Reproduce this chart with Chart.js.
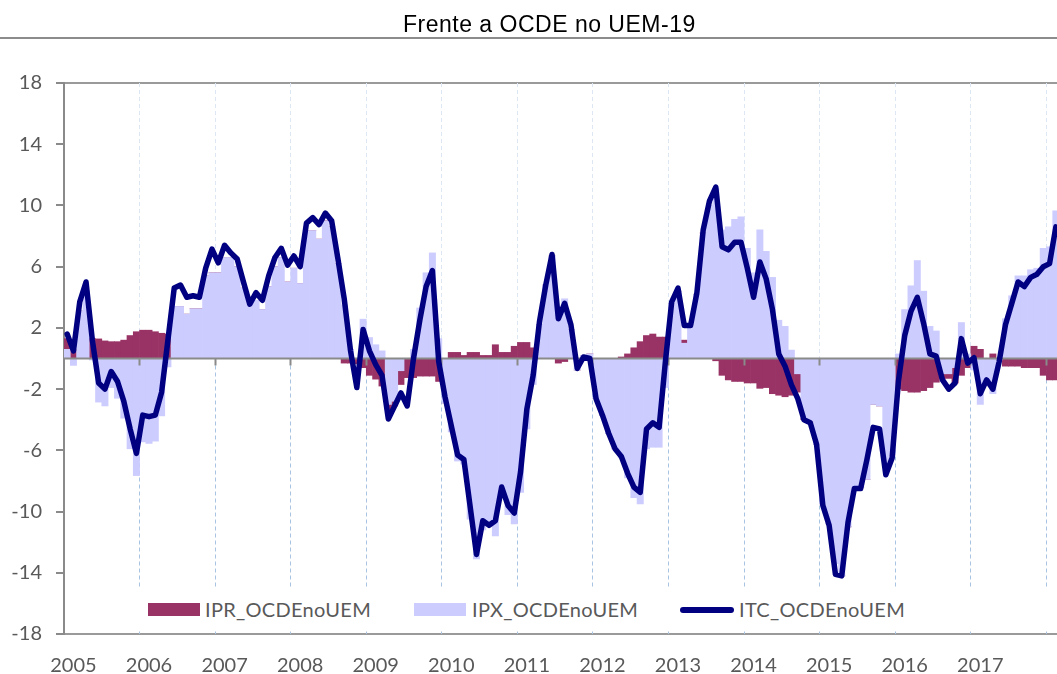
<!DOCTYPE html>
<html>
<head>
<meta charset="utf-8">
<script src="https://cdn.jsdelivr.net/npm/chart.js@4.4.1/dist/chart.umd.min.js"></script>
<style>
  html, body { margin: 0; padding: 0; background: #fff; overflow: hidden; }
  #wrap { position: relative; width: 1057px; height: 674px; overflow: hidden; }
  #chart { position: absolute; left: 0; top: 0; }
  .title { position: absolute; left: 403px; top: 13px; font: 23px/23px "Liberation Sans", Arial, sans-serif;
           letter-spacing: 0.5px; color: #000; white-space: nowrap; }
  .title-rule { position: absolute; left: 0; top: 37px; width: 1057px; height: 2px; background: #8c8c8c; }
  .legend { position: absolute; left: 100px; top: 587px; width: 957px; height: 44px; background: #fff; }
  .legend .sw { position: absolute; top: 16px; width: 52px; height: 13px; }
  .legend .ln { position: absolute; top: 20px; width: 54px; height: 6px; border-radius: 3px; background: #000080; }
  .legend .tx { position: absolute; top: 10px; font: 20px/24px Lato, sans-serif; color: #595959; letter-spacing: 0.3px; white-space: nowrap; }
</style>
</head>
<body>
<div id="wrap">
  <canvas id="chart" width="1059" height="674"></canvas>
  <div class="title">Frente a OCDE no UEM-19</div>
  <div class="title-rule"></div>
  <div class="legend">
    <div class="sw" style="left:48px;background:#993366"></div>
    <div class="tx" style="left:105px">IPR_OCDEnoUEM</div>
    <div class="sw" style="left:314px;background:#ccccff"></div>
    <div class="tx" style="left:372px">IPX_OCDEnoUEM</div>
    <div class="ln" style="left:580px"></div>
    <div class="tx" style="left:639px">ITC_OCDEnoUEM</div>
  </div>
</div>
<script>
// monthly data, Jan 2005 .. Feb 2018
const years = [2005, 2006, 2007, 2008, 2009, 2010, 2011, 2012, 2013, 2014, 2015, 2016, 2017, 2018];
const months = ['01', '02', '03', '04', '05', '06', '07', '08', '09', '10', '11', '12'];
const yearTicks = ['2005', '2006', '2007', '2008', '2009', '2010', '2011', '2012', '2013', '2014', '2015', '2016', '2017'];
const yTicks = [-18, -14, -10, -6, -2, 2, 6, 10, 14, 18];

const itc = [
    1.6, 0.5, 3.7, 5.0, 1.2, -1.6, -2.0, -0.85, -1.5, -2.8, -4.6, -6.2,        // 2005
    -3.7, -3.8, -3.7, -2.2, 1.2, 4.6, 4.8, 4.0, 4.1, 4.0, 5.9, 7.15,          // 2006
    6.25, 7.4, 6.9, 6.5, 5.0, 3.55, 4.3, 3.8, 5.4, 6.6, 7.2, 6.1,             // 2007
    6.7, 6.0, 8.85, 9.2, 8.75, 9.5, 9.0, 6.5, 3.9, 0.5, -1.9, 1.9,            // 2008
    0.5, -0.4, -1.1, -3.95, -3.1, -2.25, -3.1, 0.0, 2.5, 4.7, 5.75, -0.2,     // 2009
    -2.5, -4.4, -6.3, -6.6, -9.7, -12.8, -10.6, -10.9, -10.6, -8.4, -9.6, -10.1, // 2010
    -7.4, -3.3, -1.1, 2.4, 4.8, 6.8, 2.6, 3.6, 2.2, -0.65, 0.1, 0.0,          // 2011
    -2.65, -3.7, -4.9, -5.9, -6.4, -7.5, -8.4, -8.75, -4.6, -4.2, -4.5, -0.2, // 2012
    3.7, 4.6, 2.15, 2.15, 4.3, 8.4, 10.3, 11.2, 7.3, 7.1, 7.6, 7.6,           // 2013
    5.9, 4.0, 6.3, 5.2, 3.2, 0.3, -0.5, -1.7, -2.6, -4.0, -4.2, -5.6,         // 2014
    -9.6, -10.9, -14.1, -14.2, -10.7, -8.5, -8.5, -6.6, -4.5, -4.6, -7.6, -6.5, // 2015
    -1.5, 1.5, 3.1, 4.0, 2.3, 0.3, 0.15, -1.4, -2.0, -1.6, 1.3, -0.3,         // 2016
    0.05, -2.3, -1.4, -2.0, -0.2, 2.2, 3.6, 5.0, 4.7, 5.3, 5.5, 6.0,          // 2017
    6.2, 8.6                                                                  // 2018
];

const ipx = [
    0.6, -0.45, 3.1, 4.4, -0.1, -2.85, -3.1, -1.9, -2.6, -3.9, -5.9, -7.65,
    -5.45, -5.55, -5.4, -3.75, -0.55, 3.4, 3.4, 2.9, 3.25, 3.25, 5.4, 5.6,
    5.6, 6.6, 6.6, 6.0, 4.6, 3.55, 3.8, 3.2, 4.7, 6.0, 6.6, 5.0,
    5.9, 4.9, 8.35, 8.35, 7.8, 9.0, 8.6, 6.2, 3.5, 0.6, 0.0, 2.57,
    1.37, 0.9, 0.5, -3.0, -2.8, -0.8, 0.0, 0.6, 3.3, 5.6, 6.9, 1.3,
    -2.9, -4.8, -6.7, -6.9, -10.5, -13.1, -11.2, -10.9, -11.6, -8.7, -10.2, -10.8,
    -8.75, -4.6, -1.7, 2.2, 4.8, 6.7, 3.0, 3.9, 1.9, -0.75, 0.2, 0.3,
    -2.6, -3.7, -4.9, -5.9, -6.5, -7.8, -9.1, -9.5, -5.9, -5.8, -5.8, -1.9,
    3.6, 4.4, 1.0, 2.1, 4.2, 8.2, 10.0, 11.1, 8.4, 8.6, 9.1, 9.25,
    7.2, 5.6, 8.4, 7.0, 5.3, 2.5, 2.1, 0.55, -1.0, -3.9, -4.1, -5.6,
    -9.5, -10.8, -13.4, -14.2, -11.0, -8.4, -8.4, -7.9, -3.0, -3.1, -7.0, -6.3,
    0.3, 3.2, 4.75, 6.4, 4.4, 2.1, 1.8, -1.0, -1.0, -0.6, 2.35, 0.3,
    -0.75, -3.0, -1.5, -2.3, -0.1, 2.6, 4.1, 5.4, 5.4, 5.8, 5.9, 7.2,
    7.3, 9.65
];

const ipr = [
    0.7, 0.6, 0, 0, 1.3, 1.28, 1.15, 1.1, 1.1, 1.2, 1.5, 1.75,
    1.85, 1.85, 1.75, 1.65, 1.6, 0, 0, 0, 0, 0, 0, 0,
    0, 0, 0, 0, 0, 0, 0, 0, 0, 0, 0, 0,
    0, 0, 0, 0, 0, 0, 0, 0, -0.3, -0.3, -0.35, -0.6,
    -1.1, -1.35, -1.8, -0.3, -0.3, -0.9, -1.25, -1.25, -1.15, -1.15, -1.15, -1.5,
    0, 0.4, 0.4, 0.2, 0.4, 0.4, 0.2, 0.2, 0.9, 0.4, 0.4, 0.8,
    1.05, 1.05, 0.7, 0, 0, 0, -0.3, -0.2, 0, 0, 0, 0,
    0, 0, 0, 0, 0.1, 0.3, 0.7, 1.1, 1.5, 1.6, 1.4, 1.4,
    0, 0, 0.2, 0, 0, 0, 0, -0.15, -1.1, -1.4, -1.5, -1.5,
    -1.6, -1.6, -1.95, -1.9, -2.3, -2.4, -2.5, -2.4, -1.2, -0.1, -0.1, 0,
    0, 0, 0, 0, 0, 0, 0, 0, 0, 0, 0, 0,
    -2.0, -2.1, -2.2, -2.2, -2.1, -1.9, -1.55, -0.3, -0.3, -1.0, -1.1, -0.6,
    0.8, 0.6, 0, 0.3, 0, -0.5, -0.5, -0.5, -0.6, -0.6, -0.6, -1.1,
    -1.4, -1.4
];

const labels = [];
years.forEach(function (y) {
    months.forEach(function (m) { labels.push(y + '-' + m); });
});
labels.splice(itc.length);

// pixel of the boundary between December and January
function yearEdge(x, i) {
    return Math.floor((x.getPixelForValue(i - 1) + x.getPixelForValue(i)) / 2);
}

// dashed year separators + zero axis with tick marks
const yearLines = {
    id: 'yearLines',
    beforeDatasetsDraw(chart) {
        const { ctx, chartArea, scales } = chart;
        const x = scales.x, y = scales.y;
        const y0 = y.getPixelForValue(0);
        ctx.save();
        ctx.lineWidth = 1;
        ctx.setLineDash([4, 3]);
        for (let i = 12; i < labels.length; i += 12) {
            const px = yearEdge(x, i) + 0.5;
            ctx.strokeStyle = '#dde7f3';
            ctx.beginPath();
            ctx.moveTo(px, chartArea.top);
            ctx.lineTo(px, y0);
            ctx.stroke();
            ctx.strokeStyle = '#a9c3e3';
            ctx.beginPath();
            ctx.moveTo(px, y0);
            ctx.lineTo(px, chartArea.bottom);
            ctx.stroke();
        }
        ctx.restore();
    },
    beforeDatasetDraw(chart, args) {
        if (args.index !== 0) return;
        const { ctx, chartArea, scales } = chart;
        const x = scales.x, y = scales.y;
        const y0 = y.getPixelForValue(0);
        ctx.save();
        ctx.strokeStyle = '#8a8a8a';
        ctx.lineWidth = 2;
        ctx.beginPath();
        ctx.moveTo(chartArea.left, y0);
        ctx.lineTo(chartArea.right, y0);
        for (let i = 12; i < labels.length; i += 12) {
            const px = yearEdge(x, i) + 0.5;
            ctx.moveTo(px, y0);
            ctx.lineTo(px, y0 + 7);
        }
        ctx.stroke();
        ctx.restore();
    }
};

Chart.defaults.font.family = 'Lato, sans-serif';
Chart.defaults.font.size = 20;
Chart.defaults.color = '#595959';

new Chart(document.getElementById('chart'), {
    data: {
        labels: labels,
        datasets: [
            {
                type: 'line',
                label: 'ITC_OCDEnoUEM',
                data: itc,
                borderColor: '#000080',
                borderWidth: 5.5,
                borderJoinStyle: 'round',
                borderCapStyle: 'round',
                pointRadius: 0,
                tension: 0,
                fill: false
            },
            {
                type: 'bar',
                label: 'IPX_OCDEnoUEM',
                data: ipx,
                backgroundColor: '#ccccff',
                borderWidth: 0,
                barPercentage: 1,
                categoryPercentage: 1
            },
            {
                type: 'bar',
                label: 'IPR_OCDEnoUEM',
                data: ipr,
                backgroundColor: '#993366',
                borderWidth: 0,
                barPercentage: 1,
                categoryPercentage: 1
            }
        ]
    },
    options: {
        responsive: false,
        animation: false,
        devicePixelRatio: 1,
        layout: { padding: { top: 83, left: 0, right: 0, bottom: 0 } },
        plugins: {
            legend: { display: false },
            tooltip: { enabled: false }
        },
        scales: {
            x: {
                stacked: true,
                grid: { display: false, drawTicks: false },
                border: { display: false },
                ticks: {
                    autoSkip: false,
                    maxRotation: 0,
                    padding: 20,
                    callback: function (v, i) {
                        const lab = labels[i];
                        const yr = lab.slice(0, 4);
                        return lab.slice(5) === '02' && yearTicks.includes(yr) ? yr : '';
                    }
                },
                afterFit: function (scale) {
                    scale.height = 40;
                    scale.paddingLeft = 0;
                    scale.paddingRight = 0;
                }
            },
            y: {
                stacked: true,
                min: -18,
                max: 18,
                afterBuildTicks: function (scale) {
                    scale.ticks = yTicks.map(function (v) { return { value: v }; });
                },
                ticks: { padding: 14 },
                grid: {
                    color: function (c) {
                        return (c.tick && Math.abs(c.tick.value) === 18) ? '#9a9a9a' : 'rgba(0,0,0,0)';
                    },
                    lineWidth: 2,
                    tickColor: '#8a8a8a',
                    tickLength: 8
                },
                border: { display: true, color: '#8a8a8a', width: 2 },
                afterFit: function (scale) { scale.width = 64; }
            }
        }
    },
    plugins: [yearLines]
});
</script>
</body>
</html>
